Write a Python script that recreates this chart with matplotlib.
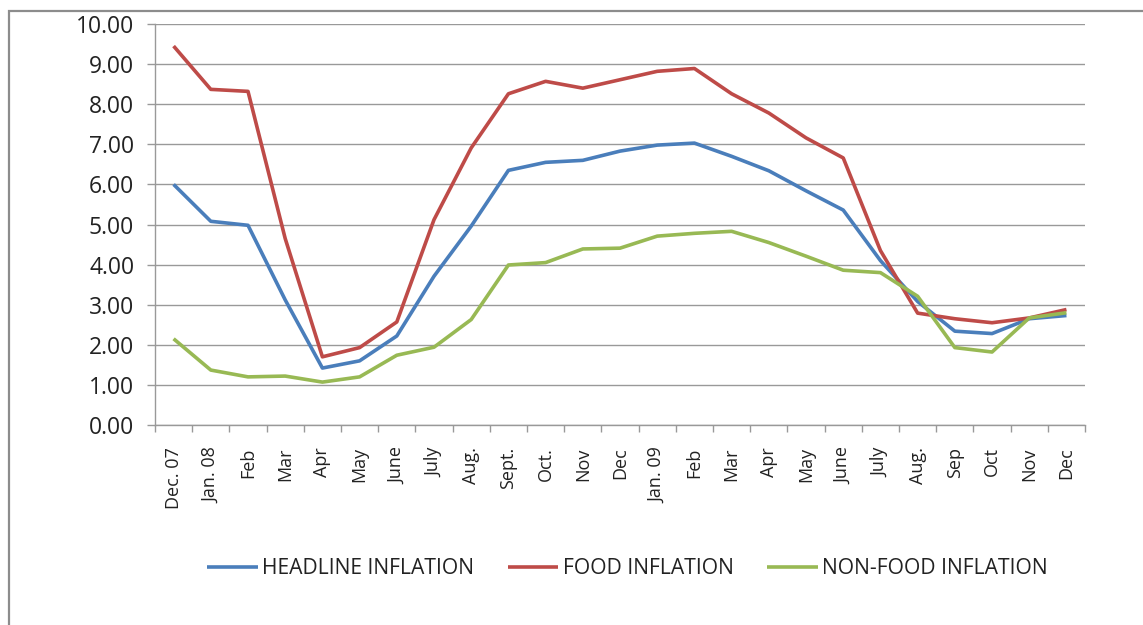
import matplotlib
matplotlib.use("Agg")
import matplotlib.pyplot as plt
from matplotlib.patches import Rectangle

months = ["Dec. 07", "Jan. 08", "Feb", "Mar", "Apr", "May", "June", "July", "Aug.",
          "Sept.", "Oct.", "Nov", "Dec", "Jan. 09", "Feb", "Mar", "Apr", "May", "June",
          "July", "Aug.", "Sep", "Oct", "Nov", "Dec"]

headline = [6.00, 5.08, 4.98, 3.12, 1.42, 1.60, 2.22, 3.71, 4.96, 6.35, 6.55, 6.60, 6.83,
            6.98, 7.03, 6.70, 6.34, 5.84, 5.36, 4.10, 3.08, 2.34, 2.28, 2.65, 2.73]
food = [9.45, 8.37, 8.32, 4.65, 1.70, 1.93, 2.57, 5.12, 6.91, 8.26, 8.57, 8.40, 8.61,
        8.82, 8.89, 8.26, 7.78, 7.16, 6.66, 4.35, 2.79, 2.65, 2.55, 2.67, 2.88]
nonfood = [2.15, 1.37, 1.20, 1.22, 1.07, 1.20, 1.74, 1.94, 2.63, 3.99, 4.05, 4.39, 4.41,
           4.71, 4.78, 4.83, 4.55, 4.21, 3.86, 3.80, 3.21, 1.93, 1.82, 2.67, 2.80]

series = [("HEADLINE INFLATION", headline, "#4A7EBB"),
          ("FOOD INFLATION", food, "#BE4B48"),
          ("NON-FOOD INFLATION", nonfood, "#98B954")]

plt.rcParams["font.family"] = ["Open Sans", "DejaVu Sans"]

fig = plt.figure(figsize=(11.43, 6.25), dpi=100)
ax = fig.add_axes([0.1356, 0.32, 0.8137, 0.6416])

# outer chart frame (runs off the right/bottom like the screenshot)
fig.patches.append(Rectangle((9 / 1143, -0.1), 1.2, 1.1 - 11 / 625,
                             transform=fig.transFigure, fill=False,
                             edgecolor="#8c8c8c", linewidth=1.6, zorder=0))

x = list(range(len(months)))
for name, vals, color in series:
    ax.plot(x, vals, color=color, linewidth=2.6, label=name, solid_capstyle="butt")

ax.set_xlim(-0.5, len(months) - 0.5)
ax.set_ylim(0, 10)
ax.set_yticks(range(0, 11))
ax.set_yticklabels([f"{v:.2f}" for v in range(0, 11)], fontsize=16.5, color="#222222")
ax.grid(axis="y", color="#999999", linewidth=1.0)
ax.set_axisbelow(True)

# category labels between tick marks, Excel style
ax.set_xticks(x)
ax.set_xticklabels(months, rotation=90, fontsize=13, color="#222222")
ax.tick_params(axis="x", length=0, pad=16)
ax.set_xticks([i - 0.5 for i in range(len(months) + 1)], minor=True)
ax.tick_params(axis="x", which="minor", length=5, color="#999999", width=1)
ax.tick_params(axis="y", length=6, color="#999999", width=1, pad=9)

for side in ["top", "right"]:
    ax.spines[side].set_visible(False)
for side in ["left", "bottom"]:
    ax.spines[side].set_color("#999999")
    ax.spines[side].set_linewidth(1)

leg = fig.legend(loc="center", bbox_to_anchor=(0.549, 0.09), ncol=3, frameon=False,
                 fontsize=15.2, handlelength=2.4, columnspacing=1.6, handletextpad=0.2)
for t in leg.get_texts():
    t.set_color("#222222")

fig.savefig("out.png", dpi=100, facecolor="white")
